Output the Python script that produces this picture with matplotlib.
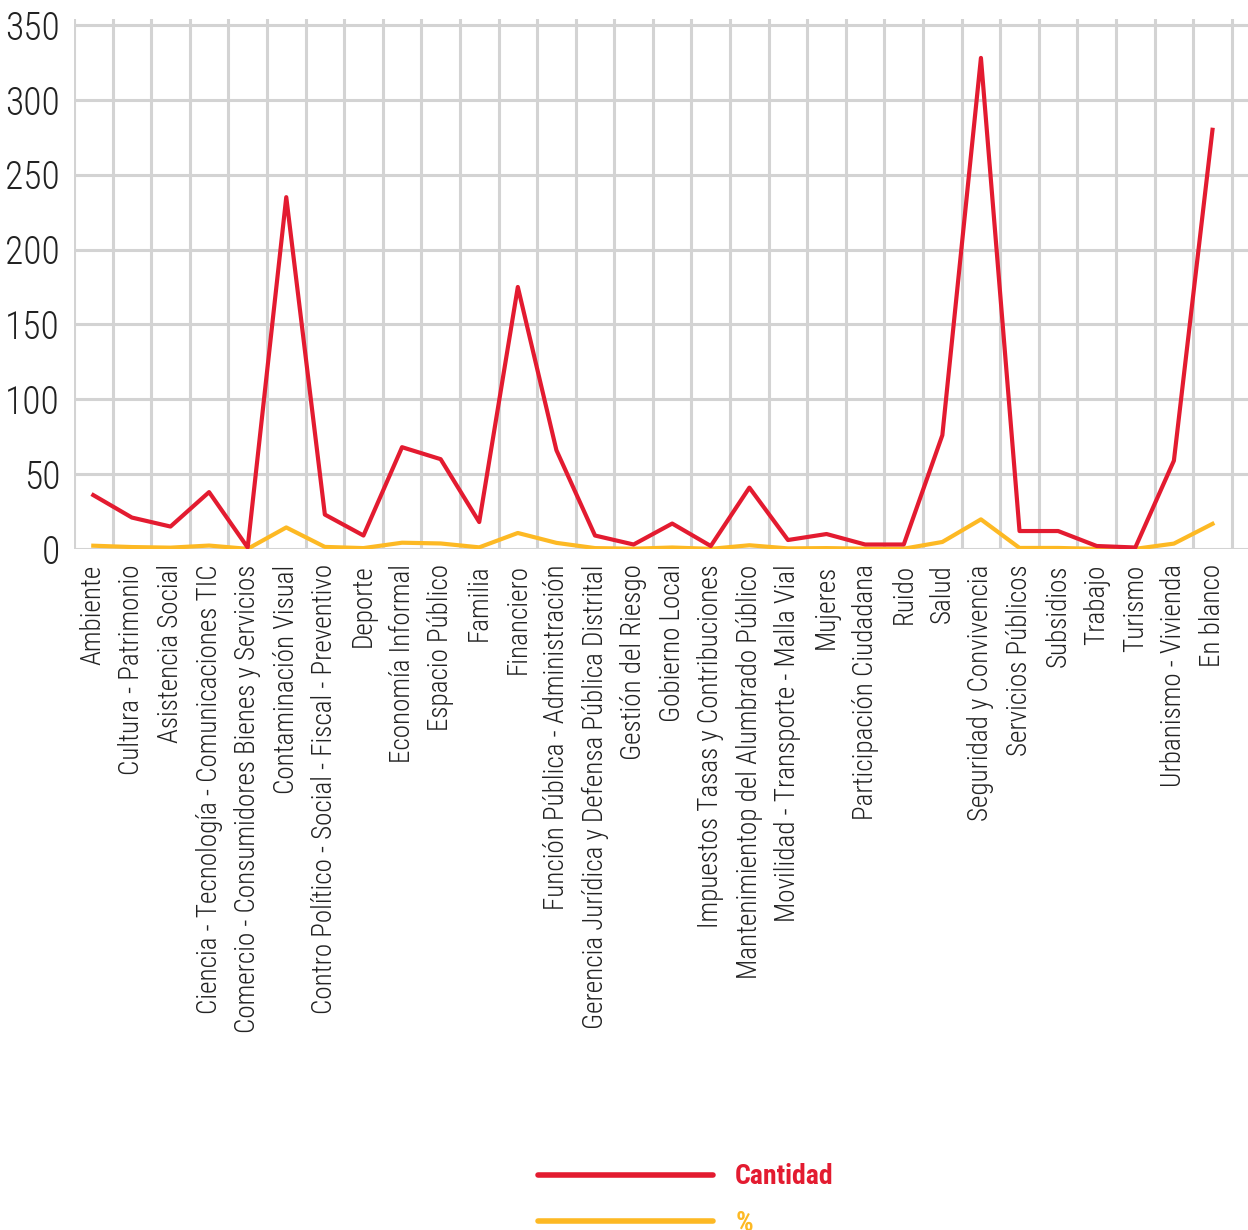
import matplotlib.pyplot as plt

categorias = ['Ambiente', 'Cultura - Patrimonio', 'Asistencia Social',
              'Ciencia - Tecnología - Comunicaciones TIC',
              'Comercio - Consumidores Bienes y Servicios',
              'Contaminación Visual',
              'Contro Político - Social - Fiscal - Preventivo',
              'Deporte', 'Economía Informal', 'Espacio Público', 'Familia',
              'Financiero', 'Función Pública - Administración',
              'Gerencia Jurídica y Defensa Pública Distrital',
              'Gestión del Riesgo', 'Gobierno Local',
              'Impuestos Tasas y Contribuciones',
              'Mantenimientop del Alumbrado Público',
              'Movilidad - Transporte - Malla Vial', 'Mujeres',
              'Participación Ciudadana', 'Ruido', 'Salud',
              'Seguridad y Convivencia', 'Servicios Públicos', 'Subsidios',
              'Trabajo', 'Turismo', 'Urbanismo - Vivienda', 'En blanco']
cantidad = [36, 21, 15, 38, 1, 235, 23, 9, 68, 60, 18, 175, 66, 9, 3, 17, 2,
            41, 6, 10, 3, 3, 76, 328, 12, 12, 2, 1, 59, 280]
porcentaje = [2.2, 1.3, 0.9, 2.3, 0.1, 14.4, 1.4, 0.6, 4.2, 3.7, 1.1, 10.7,
              4.1, 0.6, 0.2, 1.0, 0.1, 2.5, 0.4, 0.6, 0.2, 0.2, 4.7, 19.8,
              0.7, 0.7, 0.1, 0.1, 3.6, 16.8]
yticks = [0, 50, 100, 150, 200, 250, 300, 350]

rojo = '#E31B30'
amarillo = '#FDB924'
gris = '#D3D3D3'

plt.rcParams['font.family'] = ['Roboto Condensed', 'DejaVu Sans']

fig = plt.figure(figsize=(12.48, 12.30), dpi=100)
ax = fig.add_axes([74/1248, 1-549/1230, 1-74/1248, (549-19)/1230])

x = list(range(len(categorias)))

# cuadricula
for v in yticks:
    ax.axhline(v, color=gris, lw=2.2, zorder=0)
for i in range(len(categorias) + 1):
    ax.axvline(i - 0.5, color=gris, lw=2.2, zorder=0)

l1, = ax.plot(x, cantidad, color=rojo, lw=3, label='Cantidad', zorder=3)
l2, = ax.plot(x, porcentaje, color=amarillo, lw=3, label='%', zorder=2)

ax.set_xlim(-0.5, 29.92)
ax.set_ylim(0, 354)
ax.set_xticks(x)
ax.set_xticklabels(categorias, rotation=90, fontsize=19.5, fontweight='light',
                   color='#222222')
ax.set_yticks(yticks)
ax.set_yticklabels([str(v) for v in yticks], fontsize=27, fontweight='light',
                   color='#222222')
ax.tick_params(axis='both', length=0)
ax.tick_params(axis='x', pad=11)
ax.tick_params(axis='y', pad=10)
for s in ax.spines.values():
    s.set_visible(False)

leg = fig.legend(handles=[l1, l2], loc='center left',
                 bbox_to_anchor=(538/1248, 1-1200/1230),
                 frameon=False, handlelength=6.3, handletextpad=0.8,
                 labelspacing=0.7, borderpad=0, borderaxespad=0,
                 prop={'size': 20, 'weight': 'bold'}, labelcolor='linecolor')
for h in leg.legend_handles:
    h.set_linewidth(4)
    h.set_solid_capstyle('round')

plt.savefig('out.png', dpi=100)
